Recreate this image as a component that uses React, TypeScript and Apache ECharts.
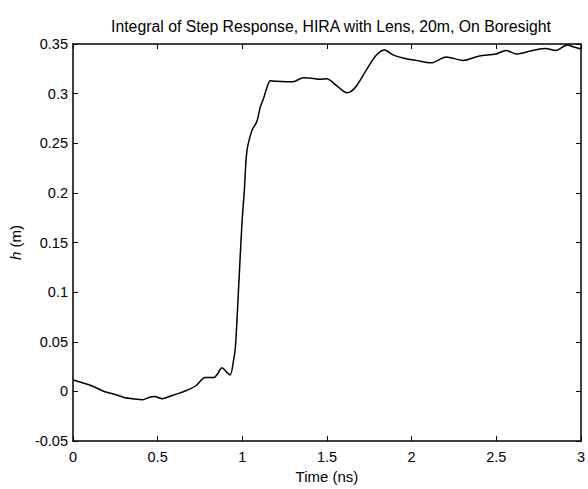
import React, { useEffect, useRef } from "react";
import * as echarts from "echarts";

const titleText = "Integral of Step Response, HIRA with Lens, 20m, On Boresight";
const xName = "Time (ns)";

const timeNs = [
  0, 0.05, 0.106, 0.184, 0.25, 0.302, 0.36, 0.41, 0.45, 0.478, 0.528, 0.57, 0.616, 0.67,
  0.724, 0.782, 0.831, 0.855, 0.88, 0.905, 0.928, 0.948, 0.959, 0.978, 0.998, 1.012, 1.027,
  1.057, 1.086, 1.106, 1.125, 1.145, 1.165, 1.2, 1.282, 1.3, 1.36, 1.41, 1.459, 1.498, 1.557,
  1.616, 1.64, 1.675, 1.733, 1.792, 1.841, 1.89, 1.949, 2.027, 2.116, 2.204, 2.302, 2.4,
  2.498, 2.557, 2.616, 2.714, 2.792, 2.851, 2.92, 2.958, 3.0,
];

const hMeters = [
  0.0115, 0.009, 0.006, 0.0, -0.003, -0.006, -0.0075, -0.0083, -0.006, -0.005, -0.0073,
  -0.005, -0.0024, 0.001, 0.0055, 0.014, 0.014, 0.018, 0.024, 0.02, 0.0165, 0.031, 0.0445,
  0.104, 0.17, 0.2026, 0.242, 0.263, 0.272, 0.2865, 0.295, 0.306, 0.313, 0.3125, 0.312,
  0.312, 0.316, 0.3155, 0.3145, 0.315, 0.308, 0.301, 0.302, 0.308, 0.324, 0.339, 0.344,
  0.339, 0.336, 0.3335, 0.331, 0.337, 0.3335, 0.338, 0.34, 0.3435, 0.34, 0.3435, 0.3455,
  0.3435, 0.349, 0.347, 0.345,
];

const X_MIN = 0, X_MAX = 3, X_STEP = 0.5;
const Y_MIN = -0.05, Y_MAX = 0.35, Y_STEP = 0.05;

const FONT = "Liberation Sans, Arial, sans-serif";

export default function App() {
  const ref = useRef<HTMLDivElement>(null);
  useEffect(() => {
    if (!ref.current) return;
    const chart = echarts.init(ref.current, null, { renderer: "svg" });
    const axisLine = { show: true, onZero: false, lineStyle: { color: "#000", width: 1.5 } };
    const tick = { show: true, inside: true, length: 5, lineStyle: { color: "#000", width: 1 } };
    const lbl = { color: "#000", fontSize: 14.5, fontFamily: FONT };
    chart.setOption({
      animation: false,
      backgroundColor: "#fff",
      title: {
        text: titleText,
        left: 326,
        top: 13,
        textAlign: "center",
        textStyle: { color: "#000", fontSize: 15.8, fontWeight: "normal", fontFamily: FONT },
      },
      grid: { left: 72, right: 6, top: 44, bottom: 41, containLabel: false },
      xAxis: [
        {
          type: "value",
          min: X_MIN,
          max: X_MAX,
          interval: X_STEP,
          name: xName,
          nameLocation: "middle",
          nameGap: 27,
          nameTextStyle: { color: "#000", fontSize: 15, fontFamily: FONT },
          axisLine,
          axisTick: tick,
          axisLabel: { ...lbl, margin: 8 },
          splitLine: { show: false },
        },
        {
          type: "value",
          position: "top",
          min: X_MIN,
          max: X_MAX,
          interval: X_STEP,
          axisLine,
          axisTick: tick,
          axisLabel: { show: false },
          splitLine: { show: false },
        },
      ],
      yAxis: [
        {
          type: "value",
          min: Y_MIN,
          max: Y_MAX,
          interval: Y_STEP,
          name: "{i|h} (m)",
          nameLocation: "middle",
          nameGap: 50,
          nameTextStyle: {
            color: "#000",
            fontSize: 15,
            fontFamily: FONT,
            rich: { i: { fontStyle: "italic", fontSize: 15, fontFamily: FONT, color: "#000" } },
          },
          axisLine,
          axisTick: tick,
          axisLabel: { ...lbl, margin: 5 },
          splitLine: { show: false },
        },
        {
          type: "value",
          position: "right",
          min: Y_MIN,
          max: Y_MAX,
          interval: Y_STEP,
          axisLine,
          axisTick: tick,
          axisLabel: { show: false },
          splitLine: { show: false },
        },
      ],
      series: [
        {
          type: "line",
          xAxisIndex: 0,
          yAxisIndex: 0,
          data: timeNs.map((t, i) => [t, hMeters[i]]),
          showSymbol: false,
          smooth: 0.3,
          lineStyle: { color: "#000", width: 1.5 },
        },
      ],
    });
    return () => chart.dispose();
  }, []);
  return (
    <div
      ref={ref}
      style={{ position: "fixed", left: 0, top: 0, width: 588, height: 489, background: "#fff" }}
    />
  );
}
